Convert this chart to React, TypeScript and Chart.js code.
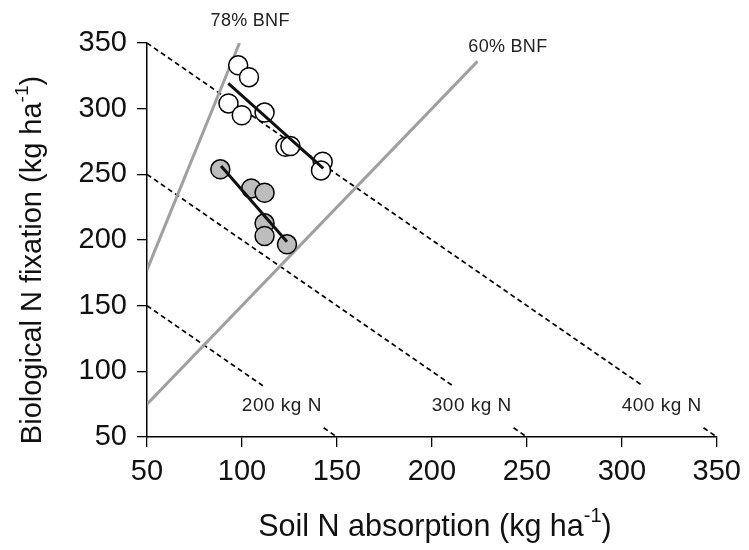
import React, { useEffect, useRef } from "react";
import { Chart, registerables } from "chart.js";

Chart.register(...registerables);

// Axis ticks
const xTicks = [50, 100, 150, 200, 250, 300, 350];
const yTicks = [50, 100, 150, 200, 250, 300, 350];

// Open circles (series 1)
const openX = [98, 103.7, 92.9, 99.9, 111.9, 122.9, 125.5, 142.5, 141.6];
const openY = [333, 324, 304, 295, 297, 271, 271.6, 259.6, 253];

// Grey circles (series 2)
const grayX = [88.6, 104.9, 111.9, 111.9, 111.9, 123.7];
const grayY = [253.8, 239.3, 236, 212.7, 203, 196.7];

// Regression lines
const openFitX = [92.8, 142.8];
const openFitY = [319.3, 254.6];
const grayFitX = [89, 123.7];
const grayFitY = [256.4, 198.7];

// %BNF reference lines (end points)
const bnf78X = [50, 98.7];
const bnf78Y = [177.3, 350];
const bnf60X = [50, 224];
const bnf60Y = [75, 336];
const bnfLabels = ["78% BNF", "60% BNF"];
const bnfLabelX = [104.3, 240];
const bnfLabelY = [366.8, 347];

// Total N isolines (x + y = N)
const totalN = [200, 300, 400];
const totalNLabels = ["200 kg N", "300 kg N", "400 kg N"];
const isoBreakTop = 89; // y where line stops before label
const isoBreakBottom = 57; // y where line resumes after label
const isoLabelOffset = 79;
const isoLabelY = 73.5;

const FONT = "'Liberation Sans', Arial, Helvetica, sans-serif";

const pts = (xs: number[], ys: number[]) => xs.map((x, i) => ({ x, y: ys[i] }));

export default function App() {
  const ref = useRef<HTMLCanvasElement | null>(null);

  useEffect(() => {
    if (!ref.current) return;

    const isoDatasets: any[] = [];
    totalN.forEach((n) => {
      const data = [
        { x: 50, y: n - 50 },
        { x: n - isoBreakTop, y: isoBreakTop },
        { x: NaN, y: NaN },
        { x: n - isoBreakBottom, y: isoBreakBottom },
        { x: n - 50, y: 50 },
      ];
      isoDatasets.push({
        data,
        showLine: true,
        spanGaps: false,
        borderColor: "#000",
        borderWidth: 1.7,
        borderDash: [5, 3.5],
        pointRadius: 0,
        fill: false,
        order: 4,
      });
    });

    const labelsPlugin = {
      id: "labelsPlugin",
      afterDraw(chart: any) {
        const { ctx, scales } = chart;
        const xs = scales.x;
        const ys = scales.y;
        ctx.save();
        ctx.fillStyle = "#222";
        ctx.textAlign = "center";
        ctx.textBaseline = "middle";
        ctx.font = `19px ${FONT}`;
        try {
          (ctx as any).letterSpacing = "0.5px";
        } catch (e) {}
        totalN.forEach((n, i) => {
          ctx.fillText(
            totalNLabels[i],
            xs.getPixelForValue(n - isoLabelOffset),
            ys.getPixelForValue(isoLabelY)
          );
        });
        ctx.font = `18px ${FONT}`;
        try {
          (ctx as any).letterSpacing = "0.3px";
        } catch (e) {}
        bnfLabels.forEach((t, i) => {
          ctx.fillText(t, xs.getPixelForValue(bnfLabelX[i]), ys.getPixelForValue(bnfLabelY[i]));
        });
        try {
          (ctx as any).letterSpacing = "0px";
        } catch (e) {}

        // Axis titles with superscript
        const drawTitle = (main: string, sup: string, tail: string, size: number) => {
          const mainFont = `${size}px ${FONT}`;
          const supFont = `${Math.round(size * 0.64)}px ${FONT}`;
          ctx.font = mainFont;
          const w1 = ctx.measureText(main).width;
          const w3 = ctx.measureText(tail).width;
          ctx.font = supFont;
          const w2 = ctx.measureText(sup).width;
          const total = w1 + w2 + w3;
          let x = -total / 2;
          ctx.textAlign = "left";
          ctx.textBaseline = "alphabetic";
          ctx.font = mainFont;
          ctx.fillText(main, x, 0);
          x += w1;
          ctx.font = supFont;
          ctx.fillText(sup, x, -size * 0.45);
          x += w2;
          ctx.font = mainFont;
          ctx.fillText(tail, x, 0);
        };
        ctx.fillStyle = "#111";
        ctx.save();
        ctx.translate(435, 536);
        drawTitle("Soil N absorption (kg ha", "-1", ")", 30.5);
        ctx.restore();
        ctx.save();
        ctx.translate(41, 260);
        ctx.rotate(-Math.PI / 2);
        drawTitle("Biological N fixation (kg ha", "-1", ")", 29);
        ctx.restore();
        ctx.restore();
      },
    };

    const chart = new Chart(ref.current, {
      type: "scatter",
      data: {
        datasets: [
          {
            data: pts(openFitX, openFitY),
            showLine: true,
            borderColor: "#111",
            borderWidth: 3,
            pointRadius: 0,
            order: 1,
          },
          {
            data: pts(grayFitX, grayFitY),
            showLine: true,
            borderColor: "#111",
            borderWidth: 3,
            pointRadius: 0,
            order: 1,
          },
          {
            data: pts(openX, openY),
            pointRadius: 9.5,
            pointBorderWidth: 1.5,
            pointBackgroundColor: "#fff",
            pointBorderColor: "#000",
            showLine: false,
            order: 2,
          },
          {
            data: pts(grayX, grayY),
            pointRadius: 9.5,
            pointBorderWidth: 1.5,
            pointBackgroundColor: "#bdbdbd",
            pointBorderColor: "#000",
            showLine: false,
            order: 2,
          },
          {
            data: pts(bnf78X, bnf78Y),
            showLine: true,
            borderColor: "#a0a0a0",
            borderWidth: 3,
            pointRadius: 0,
            order: 3,
          },
          {
            data: pts(bnf60X, bnf60Y),
            showLine: true,
            borderColor: "#a0a0a0",
            borderWidth: 3,
            pointRadius: 0,
            order: 3,
          },
          ...isoDatasets,
        ],
      },
      options: {
        animation: false,
        responsive: false,
        maintainAspectRatio: false,
        layout: { padding: { left: 0, top: 43, right: 27, bottom: 0 } },
        plugins: {
          legend: { display: false },
          tooltip: { enabled: false },
        },
        scales: {
          x: {
            type: "linear",
            min: 50,
            max: 350,
            afterFit: (s: any) => {
              s.height = 113;
            },
            afterBuildTicks: (s: any) => {
              s.ticks = xTicks.map((v) => ({ value: v }));
            },
            grid: {
              display: true,
              drawOnChartArea: false,
              drawTicks: true,
              tickLength: 10,
              color: "#000",
              lineWidth: 1.3,
            },
            border: { display: true, color: "#000", width: 1.5 },
            ticks: {
              color: "#111",
              font: { family: FONT, size: 29 },
              padding: 8,
              maxRotation: 0,
            },
          },
          y: {
            type: "linear",
            min: 50,
            max: 350,
            afterFit: (s: any) => {
              s.width = 147;
            },
            afterBuildTicks: (s: any) => {
              s.ticks = yTicks.map((v) => ({ value: v }));
            },
            grid: {
              display: true,
              drawOnChartArea: false,
              drawTicks: true,
              tickLength: 10,
              color: "#000",
              lineWidth: 1.3,
            },
            border: { display: true, color: "#000", width: 1.5 },
            ticks: {
              color: "#111",
              font: { family: FONT, size: 29 },
              padding: 10,
            },
          },
        },
      },
      plugins: [labelsPlugin],
    });

    return () => chart.destroy();
  }, []);

  return (
    <div style={{ position: "fixed", left: 0, top: 0, width: 749, height: 550, background: "#fff" }}>
      <canvas ref={ref} width={749} height={550} style={{ width: 749, height: 550, display: "block" }} />
    </div>
  );
}
